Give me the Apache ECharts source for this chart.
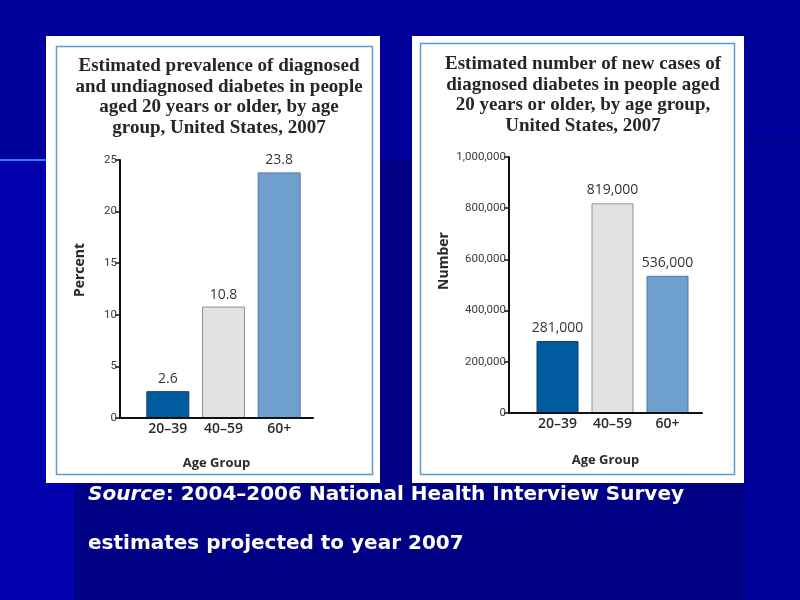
<!DOCTYPE html>
<html><head><meta charset="utf-8">
<script src="https://cdn.jsdelivr.net/npm/echarts@6/dist/echarts.min.js"></script>
<style>html,body{margin:0;padding:0;background:#00009a}#c{width:800px;height:600px}</style>
</head><body><div id="c"></div>
<script>
// ---- data ----
const categories = ['20–39', '40–59', '60+'];
const prevalencePct = [2.6, 10.8, 23.8];
const newCases = [281000, 819000, 536000];
const leftTitle = ['Estimated prevalence of diagnosed', 'and undiagnosed diabetes in people', 'aged 20 years or older, by age', 'group, United States, 2007'];
const rightTitle = ['Estimated number of new cases of', 'diagnosed diabetes in people aged', '20 years or older, by age group,', 'United States, 2007'];
const leftAxisName = 'Percent';
const rightAxisName = 'Number';
const xAxisName = 'Age Group';
const sourceLine1 = ['Source', ': 2004–2006 National Health Interview Survey'];
const sourceLine2 = 'estimates projected to year 2007';

// ---- styles ----
const barColors = ['#005c9f', '#e1e2e4', '#6f9fcc'];
const barBorders = ['#0b3f70', '#8f9195', '#4d7aa8'];
const sansFont = '"Open Sans", sans-serif';
const serifFont = '"Liberation Serif", serif';
const slideFont = '"DejaVu Sans", sans-serif';
const fmt = v => v.toLocaleString('en-US');

function barData(vals) {
  return vals.map((v, i) => ({ value: v, itemStyle: { color: barColors[i], borderColor: barBorders[i], borderWidth: 1 } }));
}
function axisGridX(gi, gap) {
  return {
    type: 'value', gridIndex: gi, min: 0, max: 1, z: 10,
    axisLine: { show: true, lineStyle: { color: '#111', width: 2 } },
    axisTick: { show: false }, axisLabel: { show: false }, splitLine: { show: false },
    name: xAxisName, nameLocation: 'middle', nameGap: gap,
    nameTextStyle: { fontFamily: sansFont, fontWeight: 700, fontSize: 13, color: '#2a2a2a' }
  };
}
function barGridX(gi) {
  return {
    type: 'category', gridIndex: gi, data: categories,
    axisLine: { show: false }, axisTick: { show: false },
    axisLabel: { fontFamily: sansFont, fontWeight: 600, fontSize: 14, color: '#2a2a2a', margin: 4 }
  };
}
function axisGridY(gi, max, interval, formatter) {
  return {
    type: 'value', gridIndex: gi, min: 0, max: max, interval: interval, z: 10,
    axisLine: { show: true, lineStyle: { color: '#111', width: 2 } },
    axisTick: { show: true, length: 5, lineStyle: { color: '#111', width: 1.5 } },
    axisLabel: { fontFamily: 'Roboto, sans-serif', fontSize: 11.5, color: '#3a3a3a', margin: 3, formatter: formatter },
    splitLine: { show: false }
  };
}
function barGridY(gi, max) {
  return { type: 'value', gridIndex: gi, min: 0, max: max, show: false, splitLine: { show: false } };
}
const titleStyle = { fontFamily: serifFont, fontWeight: 'bold', fontSize: 19, lineHeight: 20.5, color: '#262626' };

const chart = echarts.init(document.getElementById('c'), null, { renderer: 'canvas' });
chart.setOption({
  animation: false,
  backgroundColor: '#00009a',
  title: [
    { text: leftTitle.join('\n'), left: 214, top: 51, textAlign: 'center', textStyle: titleStyle },
    { text: rightTitle.join('\n'), left: 578, top: 49, textAlign: 'center', textStyle: titleStyle }
  ],
  grid: [
    { left: 120, top: 160, width: 193, height: 258 },
    { left: 140, top: 160, width: 167, height: 258 },
    { left: 509, top: 157, width: 193, height: 256 },
    { left: 530, top: 157, width: 165, height: 256 }
  ],
  xAxis: [axisGridX(0, 39), barGridX(1), axisGridX(2, 41), barGridX(3)],
  yAxis: [axisGridY(0, 25, 5), barGridY(1, 25), axisGridY(2, 1000000, 200000, fmt), barGridY(3, 1000000)],
  series: [
    { type: 'bar', xAxisIndex: 1, yAxisIndex: 1, barWidth: 43, data: barData(prevalencePct),
      label: { show: true, position: 'top', distance: 5, fontFamily: sansFont, fontSize: 14, color: '#333' } },
    { type: 'bar', xAxisIndex: 3, yAxisIndex: 3, barWidth: 42, data: barData(newCases),
      label: { show: true, position: 'top', distance: 6, fontFamily: sansFont, fontSize: 14, color: '#333', formatter: p => fmt(p.value) } }
  ],
  graphic: [
    { type: 'rect', z: -10, silent: true, shape: { x: 0, y: 160, width: 75, height: 440 }, style: { fill: '#0000ac' } },
    { type: 'rect', z: -10, silent: true, shape: { x: 75, y: 160, width: 670, height: 440 }, style: { fill: '#000084' } },
    { type: 'rect', z: -9, silent: true, shape: { x: 0, y: 159, width: 75, height: 2 }, style: { fill: '#3a78ff' } },
    { type: 'rect', z: -9, silent: true, shape: { x: 50, y: 0, width: 1, height: 36 }, style: { fill: '#000078' } },
    { type: 'rect', z: -9, silent: true, shape: { x: 744, y: 140, width: 56, height: 1 }, style: { fill: '#000070' } },
    { type: 'rect', z: -5, silent: true, shape: { x: 46, y: 36, width: 334, height: 447 }, style: { fill: '#fff' } },
    { type: 'rect', z: -5, silent: true, shape: { x: 412, y: 36, width: 332, height: 447 }, style: { fill: '#fff' } },
    { type: 'rect', z: -4, silent: true, shape: { x: 56.5, y: 46.5, width: 316, height: 428 }, style: { fill: 'none', stroke: '#5e9bcf', lineWidth: 1.5 } },
    { type: 'rect', z: -4, silent: true, shape: { x: 420.5, y: 43.5, width: 314, height: 431 }, style: { fill: 'none', stroke: '#5e9bcf', lineWidth: 1.5 } },
    { type: 'text', x: 80, y: 270, rotation: Math.PI / 2, silent: true,
      style: { text: leftAxisName, align: 'center', verticalAlign: 'middle', fontFamily: sansFont, fontWeight: 700, fontSize: 14, fill: '#2a2a2a' } },
    { type: 'text', x: 444, y: 261, rotation: Math.PI / 2, silent: true,
      style: { text: rightAxisName, align: 'center', verticalAlign: 'middle', fontFamily: sansFont, fontWeight: 700, fontSize: 14, fill: '#2a2a2a' } },
    { type: 'text', x: 88, y: 495, silent: true,
      style: { text: '{i|' + sourceLine1[0] + '}' + sourceLine1[1], verticalAlign: 'middle', fontFamily: slideFont, fontWeight: 'bold', fontSize: 20, fill: '#fff',
        rich: { i: { fontStyle: 'italic', fontFamily: slideFont, fontWeight: 'bold', fontSize: 20, fill: '#fff' } } } },
    { type: 'text', x: 88, y: 544, silent: true,
      style: { text: sourceLine2, verticalAlign: 'middle', fontFamily: slideFont, fontWeight: 'bold', fontSize: 20, fill: '#fff' } }
  ]
});
</script></body></html>
